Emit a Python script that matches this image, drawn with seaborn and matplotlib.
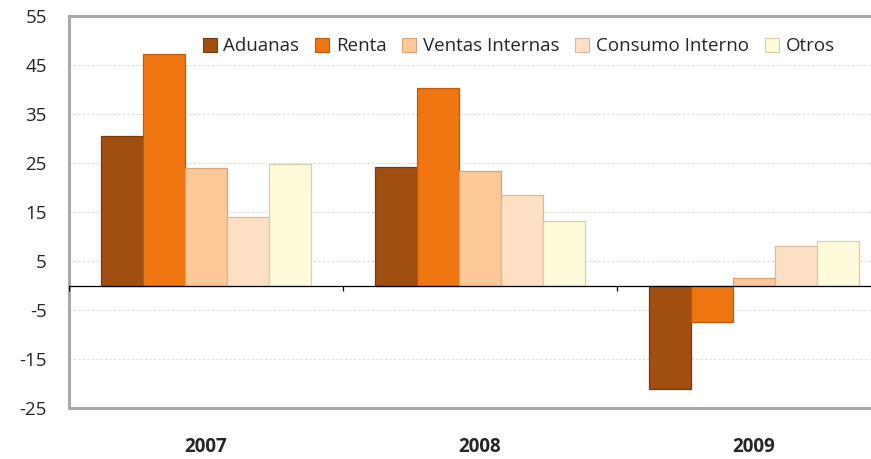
import pandas as pd
import seaborn as sns
import matplotlib.pyplot as plt

years = ['2007', '2008', '2009']
series = ['Aduanas', 'Renta', 'Ventas Internas', 'Consumo Interno', 'Otros']
aduanas = [30.5, 24.2, -21.1]
renta = [47.2, 40.3, -7.5]
ventas = [24.0, 23.4, 1.5]
consumo = [14.0, 18.5, 8.0]
otros = [24.8, 13.2, 9.0]
yticks = [-25, -15, -5, 5, 15, 25, 35, 45, 55]

colors = ['#A04F10', '#F07612', '#FDC797', '#FDDFC4', '#FFFAD9']
edges = ['#7A3A08', '#C05A08', '#D9A47A', '#D6B89E', '#D6D0A8']

rows = []
for name, vals in zip(series, [aduanas, renta, ventas, consumo, otros]):
    for y, v in zip(years, vals):
        rows.append({'year': y, 'serie': name, 'valor': v})
df = pd.DataFrame(rows)

sns.set_style('white')
plt.rcParams['font.family'] = ['Open Sans', 'DejaVu Sans']

fig = plt.figure(figsize=(8.71, 4.59), dpi=100)
ax = fig.add_axes([69 / 871, 1 - 408 / 459, 822 / 871, 392 / 459])

sns.barplot(data=df, x='year', y='valor', hue='serie', hue_order=series,
            palette=colors, saturation=1, width=0.77, ax=ax, legend=False, zorder=3)

# bar edges
for cont, ec in zip(ax.containers, edges):
    for bar in cont:
        bar.set_edgecolor(ec)
        bar.set_linewidth(0.9)

ax.set_ylim(-25, 55)
ax.set_xlim(-0.5, 2.5)
ax.set_yticks(yticks)
ax.set_yticklabels([str(t) for t in yticks], fontsize=13.5)
ax.set_xlabel('')
ax.set_ylabel('')
ax.yaxis.grid(True, color='#DADADA', linestyle=(0, (2, 2)), linewidth=0.8, zorder=0)
ax.tick_params(axis='y', length=5, color='#D0D0D0', pad=11)
ax.tick_params(axis='x', length=0, pad=21)
for lbl in ax.get_xticklabels():
    lbl.set_fontweight('bold')
    lbl.set_fontsize(13.5)

for side in ['left', 'top', 'bottom']:
    ax.spines[side].set_color('#A8A8A8')
    ax.spines[side].set_linewidth(2.2)
ax.spines['right'].set_visible(False)

# zero line and category separators
ax.axhline(0, color='black', linewidth=0.9, zorder=4)
ax.vlines([-0.5, 0.5, 1.5], -1.2, 0, color='black', linewidth=0.9, zorder=4)

handles = [plt.Rectangle((0, 0), 1, 1, facecolor=c, edgecolor=e, linewidth=0.8)
           for c, e in zip(colors, edges)]
ax.legend(handles, series, loc='center', bbox_to_anchor=(0.547, 0.923), ncol=5,
          frameon=False, fontsize=13.5, handlelength=0.75, handleheight=0.75,
          handletextpad=0.35, columnspacing=0.85)

fig.savefig('out.png', dpi=100)
